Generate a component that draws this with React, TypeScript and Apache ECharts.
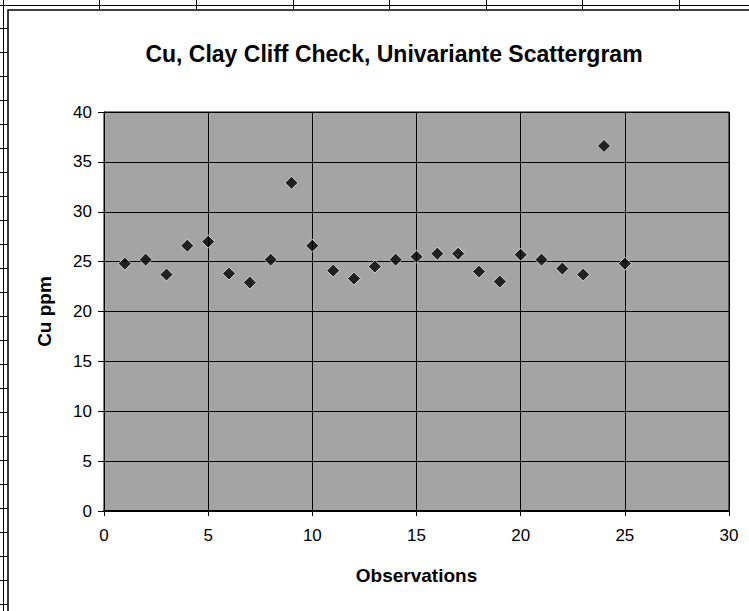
import React, { useEffect, useRef } from "react";
import * as echarts from "echarts";

// Observation number and measured copper (ppm)
const observations = [1, 2, 3, 4, 5, 6, 7, 8, 9, 10, 11, 12, 13, 14, 15, 16, 17, 18, 19, 20, 21, 22, 23, 24, 25];
const cuPpm = [24.8, 25.2, 23.7, 26.6, 27.0, 23.8, 22.9, 25.2, 32.9, 26.6, 24.1, 23.3, 24.5, 25.2, 25.5, 25.8, 25.8, 24.0, 23.0, 25.7, 25.2, 24.3, 23.7, 36.6, 24.8];

const titleText = "Cu, Clay Cliff Check, Univariante Scattergram";
const xAxisName = "Observations";
const yAxisName = "Cu ppm";

const FONT = "'Liberation Sans', Arial, sans-serif";

// Worksheet cell borders around the embedded chart
function sheetLines() {
  const els: any[] = [];
  const lineStyle = { stroke: "#000", lineWidth: 1 };
  els.push({ type: "line", shape: { x1: 0, y1: 5.5, x2: 749, y2: 5.5 }, style: lineStyle, silent: true });
  [99, 196, 293, 389, 486, 582, 679].forEach((x) => {
    els.push({ type: "line", shape: { x1: x + 0.5, y1: 0, x2: x + 0.5, y2: 10 }, style: lineStyle, silent: true });
  });
  els.push({ type: "line", shape: { x1: 3.5, y1: 0, x2: 3.5, y2: 611 }, style: lineStyle, silent: true });
  for (let y = 28; y < 611; y += 24) {
    els.push({ type: "line", shape: { x1: 0, y1: y + 0.5, x2: 8, y2: y + 0.5 }, style: lineStyle, silent: true });
  }
  // chart frame
  els.push({
    type: "rect",
    shape: { x: 8, y: 10, width: 760, height: 620 },
    style: { fill: "#fff", stroke: "#000", lineWidth: 1.5 },
    silent: true,
    z: -10,
  });
  return els;
}

export default function App() {
  const ref = useRef<HTMLDivElement>(null);

  useEffect(() => {
    if (!ref.current) return;
    const chart = echarts.init(ref.current, undefined, { renderer: "svg" });
    chart.setOption({
      animation: false,
      backgroundColor: "#fff",
      title: {
        text: titleText,
        left: 389,
        textAlign: "center",
        top: 37,
        textStyle: { fontFamily: FONT, fontSize: 23, fontWeight: "bold", color: "#000" },
      },
      graphic: sheetLines(),
      grid: {
        left: 104,
        top: 112,
        width: 625,
        height: 399,
        show: true,
        backgroundColor: "#a4a4a4",
        borderColor: "#000",
        borderWidth: 1,
      },
      xAxis: {
        type: "value",
        min: 0,
        max: 30,
        interval: 5,
        name: xAxisName,
        nameLocation: "middle",
        nameGap: 55,
        nameTextStyle: { fontFamily: FONT, fontSize: 19, fontWeight: "bold", color: "#000" },
        axisLine: { show: true, lineStyle: { color: "#000", width: 2 } },
        axisTick: { show: true, length: 5, lineStyle: { color: "#000", width: 1 } },
        axisLabel: { margin: 16, fontFamily: FONT, fontSize: 17, color: "#000" },
        splitLine: { show: true, lineStyle: { color: "#000", width: 1 } },
      },
      yAxis: {
        type: "value",
        min: 0,
        max: 40,
        interval: 5,
        name: yAxisName,
        nameLocation: "middle",
        nameGap: 50,
        nameRotate: 90,
        nameTextStyle: { fontFamily: FONT, fontSize: 19, fontWeight: "bold", color: "#000" },
        axisLine: { show: true, lineStyle: { color: "#000", width: 1 } },
        axisTick: { show: true, length: 6, lineStyle: { color: "#000", width: 1 } },
        axisLabel: { margin: 12, fontFamily: FONT, fontSize: 17, color: "#000" },
        splitLine: { show: true, lineStyle: { color: "#000", width: 1 } },
      },
      series: [
        {
          type: "scatter",
          data: observations.map((x, i) => [x, cuPpm[i]]),
          symbol: "diamond",
          symbolSize: 13,
          itemStyle: { color: "#000", borderColor: "#e8e8e8", borderWidth: 1 },
        },
      ],
    });
    return () => chart.dispose();
  }, []);

  return <div ref={ref} style={{ position: "fixed", left: 0, top: 0, width: 749, height: 611 }} />;
}
